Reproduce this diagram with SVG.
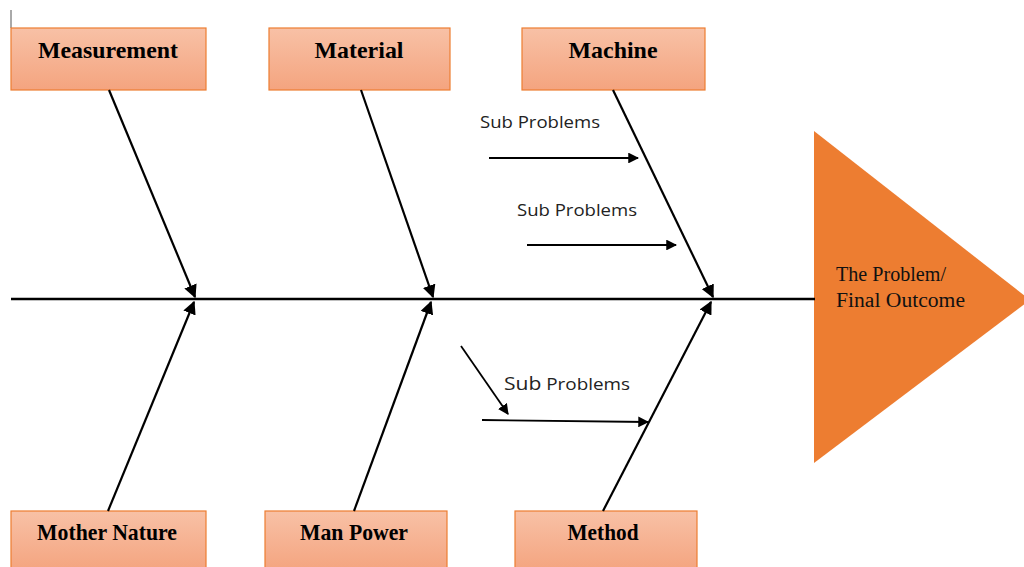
<svg xmlns="http://www.w3.org/2000/svg" width="1024" height="567" viewBox="0 0 1024 567">
  <defs>
    <linearGradient id="boxFill" x1="0" y1="0" x2="0" y2="1">
      <stop offset="0" stop-color="#F8C1A6"/>
      <stop offset="1" stop-color="#F4A47F"/>
    </linearGradient>
    <marker id="arrowL" viewBox="0 0 10 10" refX="9" refY="5" markerWidth="6" markerHeight="6" orient="auto">
      <path d="M0,0 L10,5 L0,10 z" fill="#000"/>
    </marker>
  </defs>
  <style>
    .box { fill: url(#boxFill); stroke: #ED7D31; stroke-width: 1.2; }
    .cat { font-family: "Liberation Serif", serif; font-weight: bold; font-size: 23px; fill: #000; text-anchor: middle; }
    .bone { stroke: #000; stroke-width: 2.2; fill: none; marker-end: url(#arrowL); }
    .sub { stroke: #000; stroke-width: 1.8; fill: none; marker-end: url(#arrowL); }
    .subtxt { font-family: "Open Sans", "Liberation Sans", sans-serif; font-size: 17px; fill: #222; }
    .head { font-family: "Liberation Serif", serif; font-size: 20px; fill: #111; }
  </style>
  <rect width="1024" height="567" fill="#fff"/>

  <!-- small edge tick at top left -->
  <line x1="11" y1="10" x2="11" y2="28" stroke="#555" stroke-width="1"/>

  <!-- head of the fish -->
  <g id="head">
    <polygon points="814,131 1030,300 814,463" fill="#ED7D31"/>
    <text class="head" x="836" y="281" textLength="110" lengthAdjust="spacingAndGlyphs">The Problem/</text>
    <text class="head" x="836" y="307" textLength="129" lengthAdjust="spacingAndGlyphs">Final Outcome</text>
  </g>

  <!-- category boxes -->
  <g id="measurement"><rect class="box" x="11" y="28" width="195" height="62"/><text class="cat" x="108" y="58" textLength="140" lengthAdjust="spacingAndGlyphs">Measurement</text></g>
  <g id="material"><rect class="box" x="269" y="28" width="181" height="62"/><text class="cat" x="359" y="58" textLength="89" lengthAdjust="spacingAndGlyphs">Material</text></g>
  <g id="machine"><rect class="box" x="522" y="28" width="183" height="62"/><text class="cat" x="613" y="58" textLength="89" lengthAdjust="spacingAndGlyphs">Machine</text></g>
  <g id="mother-nature"><rect class="box" x="11" y="511" width="195" height="60"/><text class="cat" x="107" y="540" textLength="140" lengthAdjust="spacingAndGlyphs">Mother Nature</text></g>
  <g id="man-power"><rect class="box" x="265" y="511" width="182" height="60"/><text class="cat" x="354" y="540" textLength="108" lengthAdjust="spacingAndGlyphs">Man Power</text></g>
  <g id="method"><rect class="box" x="515" y="511" width="182" height="60"/><text class="cat" x="603" y="540" textLength="71" lengthAdjust="spacingAndGlyphs">Method</text></g>

  <!-- sub problem labels -->
  <g id="sub-labels">
    <text class="subtxt" x="480" y="128" textLength="120" lengthAdjust="spacingAndGlyphs">Sub Problems</text>
    <text class="subtxt" x="517" y="216" textLength="120" lengthAdjust="spacingAndGlyphs">Sub Problems</text>
    <text class="subtxt" x="504" y="390" textLength="126" lengthAdjust="spacingAndGlyphs"><tspan font-size="19">Sub</tspan> Problems</text>
  </g>

  <!-- connectors -->
  <g id="connectors">
    <line x1="11" y1="299" x2="815" y2="299" stroke="#000" stroke-width="2.6"/>
    <line class="bone" x1="109" y1="90" x2="195" y2="297"/>
    <line class="bone" x1="361" y1="90" x2="433" y2="297"/>
    <line class="bone" x1="613" y1="90" x2="713" y2="297"/>
    <line class="bone" x1="108" y1="511" x2="194" y2="302"/>
    <line class="bone" x1="354" y1="511" x2="431" y2="302"/>
    <line class="bone" x1="603" y1="511" x2="711" y2="302"/>
    <line class="sub" x1="489" y1="158" x2="638" y2="158"/>
    <line class="sub" x1="527" y1="245" x2="676" y2="245"/>
    <line class="sub" x1="461" y1="346" x2="508" y2="414"/>
    <line class="sub" x1="482" y1="420" x2="648" y2="422"/>
  </g>
</svg>
